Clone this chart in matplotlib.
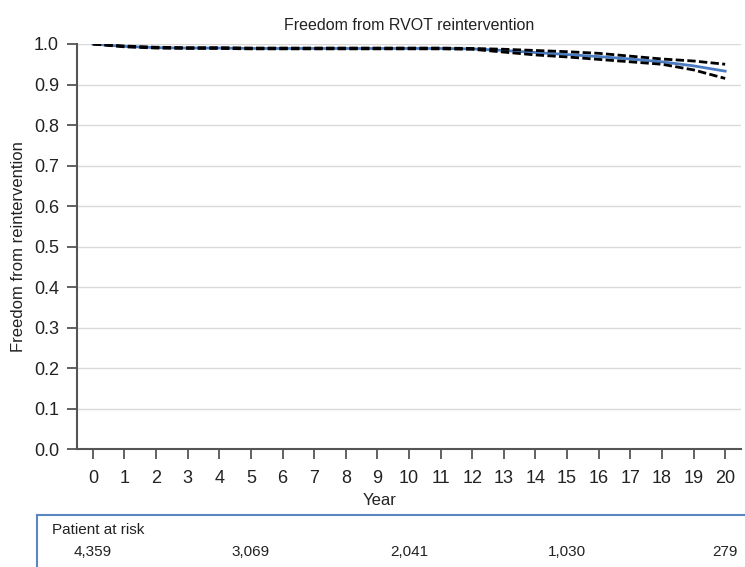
import matplotlib
matplotlib.use('Agg')
import matplotlib.pyplot as plt
from matplotlib.lines import Line2D
import numpy as np

plt.rcParams['font.family'] = ['Liberation Sans', 'DejaVu Sans']

years = list(range(0, 21))
surv = [1.0, 0.994, 0.991, 0.990, 0.990, 0.989, 0.989, 0.989, 0.989, 0.989, 0.989,
        0.989, 0.988, 0.984, 0.979, 0.974, 0.969, 0.963, 0.956, 0.946, 0.933]
upper = [1.0, 0.995, 0.992, 0.991, 0.991, 0.990, 0.990, 0.990, 0.990, 0.990, 0.990,
         0.990, 0.989, 0.987, 0.984, 0.981, 0.977, 0.970, 0.963, 0.958, 0.950]
lower = [1.0, 0.993, 0.990, 0.989, 0.989, 0.988, 0.988, 0.988, 0.988, 0.988, 0.988,
         0.988, 0.987, 0.980, 0.973, 0.968, 0.962, 0.956, 0.950, 0.936, 0.915]

risk_years = [0, 5, 10, 15, 20]
risk_counts = ['4,359', '3,069', '2,041', '1,030', '279']

fig = plt.figure(figsize=(7.45, 5.67), dpi=100)
ax = fig.add_axes([0.1034, 0.2081, 0.8912, 0.7143])

ax.plot(years, surv, color='#4a7cc4', lw=2, zorder=3)
ax.plot(years, upper, color='black', lw=2, ls=(0, (3, 1.2)), zorder=4)
ax.plot(years, lower, color='black', lw=2, ls=(0, (3, 1.2)), zorder=4)

ax.set_xlim(-0.5, 20.5)
ax.set_ylim(0, 1.0)
ax.set_xticks(years)
ax.set_yticks(np.arange(0, 1.01, 0.1))
ax.set_yticklabels([f'{v:.1f}' for v in np.arange(0, 1.01, 0.1)])
ax.grid(axis='y', color='#d9d9d9', lw=1)
ax.set_axisbelow(True)
for s in ['top', 'right']:
    ax.spines[s].set_visible(False)
for s in ['left', 'bottom']:
    ax.spines[s].set_color('#555555')
    ax.spines[s].set_linewidth(1.5)
ax.tick_params(direction='out', length=7, width=1.3, color='#555555',
               labelsize=13, labelcolor='#222222', pad=6)
ax.tick_params(axis='x', pad=8)
ax.set_xlabel('Year', fontsize=12, color='#222222', va='center')
ax.xaxis.set_label_coords(0.456, -0.126)
ax.set_ylabel('Freedom from reintervention', fontsize=12, color='#222222', labelpad=6)
ax.set_title('Freedom from RVOT reintervention', fontsize=11.5, color='#222222', pad=10)

# patients at risk table
fig.add_artist(Line2D([37 / 745, 1.0], [1 - 515 / 567] * 2, color='#5b86bf', lw=1.5))
fig.add_artist(Line2D([37 / 745] * 2, [1 - 515 / 567, 0], color='#5b86bf', lw=1.5))
fig.text(52 / 745, 1 - 530 / 567, 'Patient at risk', fontsize=11, color='#222222', va='center')
for yr, c in zip(risk_years, risk_counts):
    xf = ax.transData.transform((yr, 0))[0]
    xf = fig.transFigure.inverted().transform((xf, 0))[0]
    fig.text(xf, 1 - 552 / 567, c, fontsize=11, color='#222222', ha='center', va='center')

fig.savefig('out.png', dpi=100)
